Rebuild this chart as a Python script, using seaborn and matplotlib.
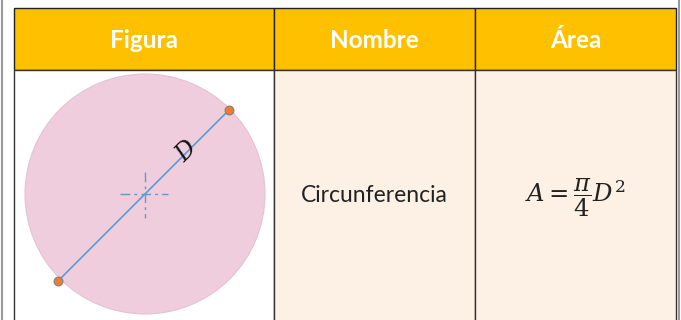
import numpy as np
import pandas as pd
import matplotlib.pyplot as plt
from matplotlib.patches import Rectangle, Circle
import seaborn as sns

# table content
headers = ['Figura', 'Nombre', 'Área']
col_edges = [14, 274, 475, 676]
row_edges = [8, 70, 318]
nombre = ['Circunferencia']
formula = [r'$A=\dfrac{\pi}{4}D^{2}$']

# circle figure (pixel units of the picture)
center = (145, 194)
radius = 120
diam_x = [58, 229]
diam_y = [281, 110]

sns.set_theme(style='white')
plt.rcParams['font.family'] = ['Lato', 'DejaVu Sans']
plt.rcParams['mathtext.fontset'] = 'dejavuserif'

fig = plt.figure(figsize=(6.81, 3.2), dpi=100)
ax = fig.add_axes([0, 0, 1, 1])
ax.set_xlim(0, 681)
ax.set_ylim(320, 0)
ax.axis('off')

# page edges
ax.axvline(2, color='#9a9a9a', lw=1.5)
ax.axvline(679, color='#9a9a9a', lw=1.5)

# header cells
for i, h in enumerate(headers):
    x0, x1 = col_edges[i], col_edges[i + 1]
    ax.add_patch(Rectangle((x0, row_edges[0]), x1 - x0, row_edges[1] - row_edges[0],
                           facecolor='#FFC000', edgecolor='#222222', lw=1))
    ax.text((x0 + x1) / 2, (row_edges[0] + row_edges[1]) / 2 + 1, h, color='white',
            fontsize=17.5, fontweight='bold', ha='center', va='center')

# body cells
body_colors = ['white', '#FDF1E6', '#FDF1E6']
for i in range(3):
    x0, x1 = col_edges[i], col_edges[i + 1]
    ax.add_patch(Rectangle((x0, row_edges[1]), x1 - x0, row_edges[2] - row_edges[1] + 4,
                           facecolor=body_colors[i], edgecolor='#333333', lw=1))

ax.text((col_edges[1] + col_edges[2]) / 2, 196, nombre[0], fontsize=16.5,
        color='#222222', ha='center', va='center')
ax.text((col_edges[2] + col_edges[3]) / 2, 198, formula[0], fontsize=17.5,
        color='#222222', ha='center', va='center')

# circle
ax.add_patch(Circle(center, radius, facecolor='#F0CDDD', edgecolor='#E5C2D2', lw=0.8))

# diameter and centre mark
df = pd.DataFrame({'x': diam_x, 'y': diam_y})
sns.lineplot(data=df, x='x', y='y', ax=ax, color='#5B9BD5', lw=1.2, sort=False)
cx, cy = center
ax.plot([cx - 25, cx + 23], [cy, cy], color='#5B9BD5', lw=1, ls=(0, (7, 3, 2, 3)))
ax.plot([cx, cx], [cy - 22, cy + 24], color='#5B9BD5', lw=1, ls=(0, (7, 3, 2, 3)))
sns.scatterplot(data=df, x='x', y='y', ax=ax, color='#ED7D31', s=40,
                edgecolor='#7f7f7f', linewidth=0.8, zorder=5)
ax.text(186, 152, 'D', fontsize=17, style='italic', family='DejaVu Serif',
        rotation=45, ha='center', va='center', color='#111111')

ax.set_xlim(0, 681)
ax.set_ylim(320, 0)
fig.savefig('out.png', dpi=100)
